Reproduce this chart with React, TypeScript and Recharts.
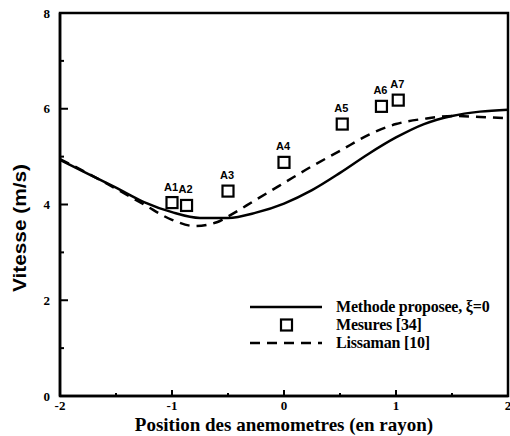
import {
  ComposedChart,
  Line,
  Scatter,
  XAxis,
  YAxis,
  ReferenceArea,
  Legend,
} from "recharts";

// proposed method, xi = 0 (solid)
const methodX = [-2, -1.75, -1.5, -1.25, -1, -0.75, -0.5, -0.25, 0, 0.25, 0.5, 0.75, 1, 1.25, 1.5, 1.75, 2];
const methodY = [4.93, 4.64, 4.35, 4.05, 3.84, 3.72, 3.72, 3.83, 4.02, 4.3, 4.66, 5.05, 5.4, 5.68, 5.85, 5.94, 5.98];

// Lissaman [10] (dashed)
const lissX = [-2, -1.75, -1.5, -1.25, -1, -0.8, -0.6, -0.5, -0.25, 0, 0.25, 0.5, 0.75, 1, 1.25, 1.5, 1.75, 2];
const lissY = [4.95, 4.65, 4.33, 4.0, 3.68, 3.55, 3.63, 3.75, 4.1, 4.45, 4.8, 5.12, 5.45, 5.68, 5.79, 5.85, 5.83, 5.8];

// Mesures [34]
const probeNames = ["A1", "A2", "A3", "A4", "A5", "A6", "A7"];
const probeX = [-1.0, -0.87, -0.5, 0.0, 0.52, 0.87, 1.02];
const probeY = [4.04, 3.98, 4.28, 4.88, 5.68, 6.05, 6.18];

const xTicks = [-2, -1.5, -1, -0.5, 0, 0.5, 1, 1.5, 2];
const yTicks = [0, 1, 2, 3, 4, 5, 6, 7, 8];

const legendNames = ["Methode proposee, \u03BE=0", "Mesures [34]", "Lissaman [10]"];
const xTitle = "Position des anemometres (en rayon)";
const yTitle = "Vitesse (m/s)";

const methodData = methodX.map((x, i) => ({ x, y: methodY[i] }));
const lissData = lissX.map((x, i) => ({ x, y: lissY[i] }));
const probeData = probeX.map((x, i) => ({ x, y: probeY[i], name: probeNames[i] }));

const W = 510;
const H = 436;
const PLOT_LEFT = 60;
const PLOT_BOTTOM = 396;
const SERIF = "'Liberation Serif', 'Times New Roman', serif";
const SANS = "'Liberation Sans', Arial, sans-serif";

function XTick(props: any) {
  const { x, payload } = props;
  const v = payload.value;
  const major = Number.isInteger(v);
  return (
    <g>
      <line x1={x} y1={PLOT_BOTTOM} x2={x} y2={PLOT_BOTTOM - (major ? 6 : 3)} stroke="#000" strokeWidth={2} />
      {major && (
        <text x={x} y={PLOT_BOTTOM + 14} textAnchor="middle" fontFamily={SERIF} fontWeight="bold" fontSize={13} fill="#000">
          {v}
        </text>
      )}
    </g>
  );
}

function YTick(props: any) {
  const { y, payload } = props;
  const v = payload.value;
  const major = v % 2 === 0;
  return (
    <g>
      <line x1={PLOT_LEFT} y1={y} x2={PLOT_LEFT + (major ? 8 : 4)} y2={y} stroke="#000" strokeWidth={2} />
      {major && (
        <text x={PLOT_LEFT - 10} y={y} dy="0.35em" textAnchor="end" fontFamily={SERIF} fontWeight="bold" fontSize={13} fill="#000">
          {v}
        </text>
      )}
    </g>
  );
}

function YTitle() {
  return (
    <text
      x={20}
      y={228}
      transform="rotate(-90 20 228)"
      textAnchor="middle"
      dominantBaseline="central"
      fontFamily={SANS}
      fontWeight="bold"
      fontSize={18}
      textLength={128}
      lengthAdjust="spacingAndGlyphs"
      fill="#000"
    >
      {yTitle}
    </text>
  );
}

function ProbeShape(props: any) {
  const { cx, cy, payload } = props;
  return (
    <g>
      <rect x={cx - 5.5} y={cy - 5.5} width={11} height={11} fill="none" stroke="#000" strokeWidth={2.2} />
      <text x={cx - 1} y={cy - 12} textAnchor="middle" fontFamily={SANS} fontWeight="bold" fontSize={11} fill="#000">
        {payload.name}
      </text>
    </g>
  );
}

function LegendBox() {
  const row = { display: "flex", alignItems: "center", height: 18 } as const;
  const label = {
    marginLeft: 14,
    fontFamily: SERIF,
    fontWeight: "bold" as const,
    fontSize: 16,
    letterSpacing: -0.2,
    color: "#000",
    whiteSpace: "nowrap" as const,
  };
  return (
    <div>
      <div style={row}>
        <svg width={72} height={10}>
          <line x1={0} y1={5} x2={72} y2={5} stroke="#000" strokeWidth={2.5} />
        </svg>
        <span style={label}>{legendNames[0]}</span>
      </div>
      <div style={row}>
        <svg width={72} height={14}>
          <rect x={31} y={1.5} width={11} height={11} fill="none" stroke="#000" strokeWidth={2.2} />
        </svg>
        <span style={label}>{legendNames[1]}</span>
      </div>
      <div style={row}>
        <svg width={72} height={10}>
          <line x1={0} y1={5} x2={72} y2={5} stroke="#000" strokeWidth={2.5} strokeDasharray="10 7" />
        </svg>
        <span style={label}>{legendNames[2]}</span>
      </div>
    </div>
  );
}

export default function App() {
  return (
    <div style={{ position: "absolute", left: 0, top: 0, width: W, height: H, background: "#fff" }}>
      <ComposedChart width={W} height={H} margin={{ top: 13, right: 2, bottom: 0, left: 0 }}>
        <XAxis
          type="number"
          dataKey="x"
          domain={[-2, 2]}
          ticks={xTicks}
          interval={0}
          height={40}
          tickLine={false}
          axisLine={{ stroke: "#000", strokeWidth: 2.5 }}
          tick={<XTick />}
          label={{
            value: xTitle,
            position: "insideBottom",
            offset: 5,
            fontFamily: SERIF,
            fontWeight: "bold",
            fontSize: 19,
            fill: "#000",
          }}
        />
        <YAxis
          type="number"
          domain={[0, 8]}
          ticks={yTicks}
          interval={0}
          width={60}
          tickLine={false}
          axisLine={{ stroke: "#000", strokeWidth: 2.5 }}
          tick={<YTick />}
          label={{ content: () => <YTitle /> }}
        />
        <ReferenceArea x1={-2} x2={2} y1={0} y2={8} fill="none" stroke="#000" strokeWidth={2.5} ifOverflow="visible" />
        <Line
          data={methodData}
          dataKey="y"
          type="monotone"
          stroke="#000"
          strokeWidth={2.5}
          dot={false}
          isAnimationActive={false}
          name={legendNames[0]}
        />
        <Scatter
          data={probeData}
          dataKey="y"
          shape={<ProbeShape />}
          isAnimationActive={false}
          name={legendNames[1]}
        />
        <Line
          data={lissData}
          dataKey="y"
          type="monotone"
          stroke="#000"
          strokeWidth={2.5}
          strokeDasharray="10 7"
          dot={false}
          isAnimationActive={false}
          name={legendNames[2]}
        />
        <Legend
          layout="horizontal"
          verticalAlign="middle"
          align="center"
          content={() => <LegendBox />}
          wrapperStyle={{ left: 250, top: 298, width: 260 }}
        />
      </ComposedChart>
    </div>
  );
}
